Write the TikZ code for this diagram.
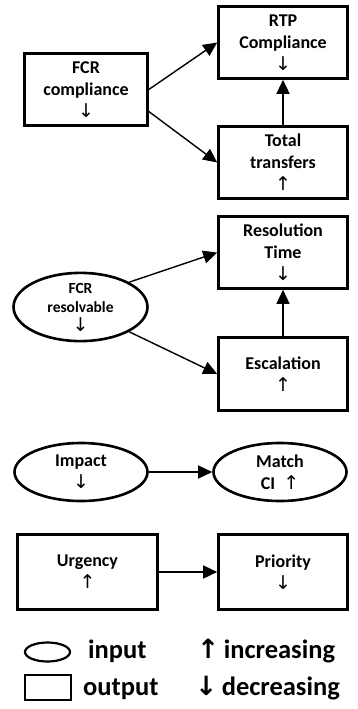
\documentclass[tikz,border=0pt]{standalone}
\usepackage{fontspec}
\setmainfont{Carlito}
\newfontfamily\arrowfont{DejaVu Sans}
\usetikzlibrary{positioning,arrows.meta,shapes.geometric}
\newcommand{\incr}{{\arrowfont\mdseries\fontsize{19}{21}\selectfont\char"2191}}
\newcommand{\decr}{{\arrowfont\mdseries\fontsize{19}{21}\selectfont\char"2193}}
\tikzset{ob/.style={rectangle,draw,line width=2.6pt,inner sep=0pt,align=center,
              font=\bfseries\fontsize{18}{22}\selectfont},
            ib/.style={ellipse,draw,line width=2.6pt,inner sep=0pt,align=center,
              font=\bfseries\fontsize{18}{22}\selectfont},
            lk/.style={-{Triangle[length=14pt,width=13pt]},line width=1.4pt},
            key/.style={anchor=base west,inner sep=0pt,font=\bfseries\fontsize{26.5}{30}\selectfont}}

\begin{document}
\begin{tikzpicture}[x=1pt,y=-1pt]
\useasboundingbox (0,0) rectangle (357,709);
% first group
\node[ob,minimum width=123,minimum height=72] at (86,89.5)(fcrc){FCR\\compliance\\\decr};
\node[ob,minimum width=129,minimum height=72] at (283,42.5)(rtp){RTP\\Compliance\\\decr};
\node[ob,minimum width=129,minimum height=72] at (283,162.5)(tot){Total\\transfers\\\incr};
\draw[lk] (fcrc.east) -- (rtp.west);
\draw[lk] ([yshift=-22pt]fcrc.east) -- (tot.west);
\draw[lk] (tot) -- (rtp);
% second group
\node[ob,minimum width=129,minimum height=72] at (283,252.5)(res){Resolution\\Time\\\decr};
\node[ob,minimum width=129,minimum height=73] at (283,374)(esc){Escalation\\\incr};
\node[ib,minimum width=134,minimum height=65,font=\bfseries\fontsize{15.5}{19}\selectfont] at (80.5,307)(fcrr){FCR\\resolvable\\\decr};
\draw[lk] (fcrr.27) -- (res.west);
\draw[lk] (fcrr.-27) -- (esc.west);
\draw[lk] (esc) -- (res);
% third group
\node[ib,minimum width=133,minimum height=58] at (81,472)(imp){Impact\\\decr};
\node[ib,minimum width=133,minimum height=58] at (280,472)(mci){Match\\CI \ \incr};
\draw[lk] (imp) -- (mci);
% fourth group
\node[ob,minimum width=140,minimum height=75] at (87.5,572)(urg){Urgency\\\incr};
\node[ob,minimum width=129,minimum height=75] at (283,572)(pri){Priority\\\decr};
\draw[lk] (urg) -- (pri);
% legend
\node[ib,line width=2.2pt,minimum width=45,minimum height=19] at (47.5,652)(kin){};
\node[ob,line width=2.2pt,minimum width=46,minimum height=25] at (48,687.5)(kout){};
\node[key] at (88,658)(tin){input};
\node[key] at (83,695)(tout){output};
\node[key] at (197,658)(tinc){{\arrowfont\bfseries\char"2191}\,increasing};
\node[key] at (195,695)(tdec){{\arrowfont\bfseries\char"2193}\,decreasing};
\end{tikzpicture}
\end{document}
